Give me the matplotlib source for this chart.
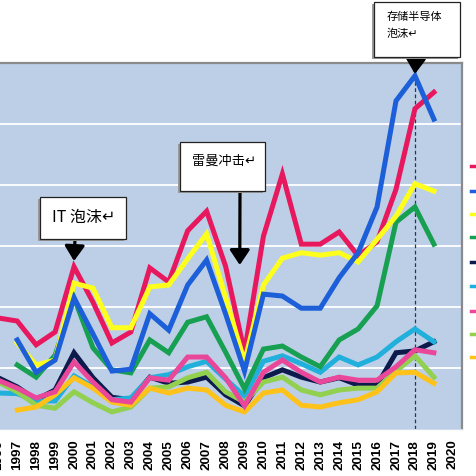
import matplotlib
matplotlib.use("Agg")
import matplotlib.pyplot as plt
from matplotlib.patches import Rectangle
from matplotlib.lines import Line2D
import numpy as np

plt.rcParams['font.family'] = ['Noto Sans CJK SC', 'DejaVu Sans']

years = list(range(1996, 2020))
tick_years = list(range(1996, 2021))

# series values (None = no data)
magenta = [18.2, 17.7, 13.8, 15.9, 26.6, 20.8, 14.1, 15.9, 26.4, 24.1, 32.5, 35.7,
           26.7, 12.6, 31.6, 41.8, 30.3, 30.3, 32.3, 28.4, 30.7, 39.3, 52.5, 55.2]
blue = [None, 14.6, 9.3, 11.3, 21.5, 15.6, 9.5, 9.8, 18.9, 16.2, 23.6, 27.7,
        18.9, 9.5, 22.1, 21.8, 19.8, 19.8, 24.8, 28.9, 36.4, 53.8, 57.9, 50.8]
yellow = [None, 14.1, 10.5, 11.3, 23.9, 23.1, 16.6, 16.6, 23.3, 23.6, 27.9, 32.0,
          21.6, 11.0, 23.6, 28.0, 28.9, 28.5, 28.9, 27.4, 31.1, 34.9, 40.2, 39.0]
green = [None, 10.5, 8.5, 12.1, 21.5, 13.3, 9.7, 9.2, 14.6, 12.5, 17.5, 18.4,
         12.6, 6.6, 13.1, 13.6, 11.8, 10.2, 14.6, 16.4, 20.2, 33.9, 36.4, 30.3]
cyan = [5.9, 5.8, 4.6, 4.6, 8.7, 6.9, 4.8, 5.1, 8.4, 8.9, 10.2, 11.1,
        8.2, 5.4, 11.1, 12.0, 10.7, 9.3, 11.8, 10.5, 11.8, 14.3, 16.4, 14.3]
navy = [8.4, 6.9, 4.8, 6.4, 12.5, 8.4, 5.2, 4.8, 8.5, 7.5, 7.7, 8.5,
        5.6, 3.8, 8.4, 9.7, 8.5, 7.7, 8.4, 7.2, 7.2, 12.5, 12.8, 14.3]
pink = [8.0, 6.7, 5.1, 6.1, 11.0, 7.7, 4.8, 4.4, 8.4, 8.0, 11.8, 11.8,
        8.4, 3.8, 9.3, 11.3, 9.3, 7.7, 8.5, 8.0, 8.0, 10.2, 13.0, 12.5]
lightgreen = [7.7, 6.1, 3.9, 3.4, 6.1, 4.3, 2.8, 3.6, 6.7, 6.9, 8.4, 9.3,
              6.1, 4.4, 7.7, 8.5, 6.4, 5.6, 6.4, 6.7, 6.7, 9.5, 12.0, 8.5]
orange = [None, 3.1, 3.6, 5.6, 8.4, 6.7, 4.4, 3.9, 6.7, 5.9, 6.7, 6.4,
          3.9, 2.8, 5.9, 6.4, 3.9, 3.6, 4.3, 4.8, 6.1, 9.2, 9.3, 7.5]

colors = {
    'magenta': '#e8185f', 'blue': '#1c5fd8', 'yellow': '#ffff1e', 'green': '#18a052',
    'cyan': '#21afdc', 'navy': '#0c1a4c', 'pink': '#e9489a', 'lightgreen': '#92d050',
    'orange': '#ffc21a',
}
series = [('navy', navy), ('cyan', cyan), ('lightgreen', lightgreen), ('orange', orange),
          ('pink', pink), ('green', green), ('magenta', magenta), ('yellow', yellow),
          ('blue', blue)]

W, H = 476, 477
fig = plt.figure(figsize=(W / 100, H / 100), dpi=100)
fig.patch.set_facecolor('white')


def fx(px):
    return px / W


def fy(py):
    return 1 - py / H


x_left_px, x_right_px = -11.2, 462.3
ax = fig.add_axes([fx(x_left_px), fy(430), (x_right_px - x_left_px) / W, (430 - 64) / H])
ax.set_facecolor('#bccfe6')
ax.set_xlim(1995.5, 2020.5)
ax.set_ylim(0, 60)
ax.set_yticks([10, 20, 30, 40, 50])
ax.grid(axis='y', color='white', lw=1.3)
ax.set_axisbelow(True)
ax.tick_params(axis='y', left=False, labelleft=False)
ax.set_xticks(tick_years)
ax.set_xticklabels([str(y) for y in tick_years], rotation=90, fontsize=9.7,
                   fontweight='bold', family=['Liberation Sans', 'DejaVu Sans'])
ax.tick_params(axis='x', length=0, pad=7)
for s in ['top', 'right']:
    ax.spines[s].set_color('#8a8a8a')
    ax.spines[s].set_linewidth(1.6)
ax.spines['bottom'].set_color('#d0dcec')
ax.spines['left'].set_visible(False)

for name, vals in series:
    arr = np.array([np.nan if v is None else v for v in vals], dtype=float)
    ax.plot(years, arr, color=colors[name], lw=3.6, solid_joinstyle='miter')

ax.axvline(2018, color='#2a3550', lw=0.9, ls=(0, (3, 2)), zorder=1.5)

# legend stubs at right edge (cut off)
legend_y = [167, 192, 215, 238, 263, 287, 312, 335, 358]
legend_order = ['magenta', 'blue', 'yellow', 'green', 'navy', 'cyan', 'pink', 'lightgreen', 'orange']
for yy, nm in zip(legend_y, legend_order):
    fig.add_artist(Line2D([fx(471), fx(482)], [fy(yy), fy(yy)], color=colors[nm], lw=2.5))


def box(x0, y0, x1, y1):
    fig.add_artist(Rectangle((fx(x0 - 2), fy(y1 + 2)), (x1 - x0) / W, (y1 - y0) / H,
                             transform=fig.transFigure, facecolor='#9a9a9a', edgecolor='none', zorder=3))
    fig.add_artist(Rectangle((fx(x0), fy(y1)), (x1 - x0) / W, (y1 - y0) / H,
                             transform=fig.transFigure, facecolor='white', edgecolor='#222222',
                             lw=0.9, zorder=4))


arrow_kw = dict(arrowstyle='-|>,head_length=0.45,head_width=0.3', lw=2.3, color='black',
                mutation_scale=20, shrinkA=0, shrinkB=0)

# IT bubble
box(40, 198, 126, 240)
fig.text(fx(52), fy(218), 'IT 泡沫↵', fontsize=11.5, va='center', ha='left', zorder=5,
         family=['Noto Sans CJK SC', 'DejaVu Sans'])
ax.annotate('', xy=(2000, (430 - 262) / 6.1), xytext=(fx(75), fy(240)),
            textcoords='figure fraction', arrowprops=arrow_kw, annotation_clip=False)

# Lehman shock
box(180, 143, 265, 192)
fig.text(fx(192), fy(161), '雷曼冲击↵', fontsize=9.5, va='center', ha='left', zorder=5,
         family=['Noto Sans CJK SC', 'DejaVu Sans'])
ax.annotate('', xy=(2009 - 0.25, (430 - 266) / 6.1), xytext=(fx(240), fy(192)),
            textcoords='figure fraction', arrowprops=arrow_kw, annotation_clip=False)

# Memory bubble
box(374, 3, 460, 58)
fig.text(fx(387), fy(17), '存储半导体', fontsize=8, va='center', ha='left', zorder=5,
         family=['Noto Sans CJK SC', 'DejaVu Sans'])
fig.text(fx(387), fy(34), '泡沫↵', fontsize=8, va='center', ha='left', zorder=5,
         family=['Noto Sans CJK SC', 'DejaVu Sans'])
ax.annotate('', xy=(2018, (430 - 75) / 6.1), xytext=(fx(416), fy(58)),
            textcoords='figure fraction', arrowprops=arrow_kw, annotation_clip=False)

fig.savefig('out.png', dpi=100, facecolor='white')
